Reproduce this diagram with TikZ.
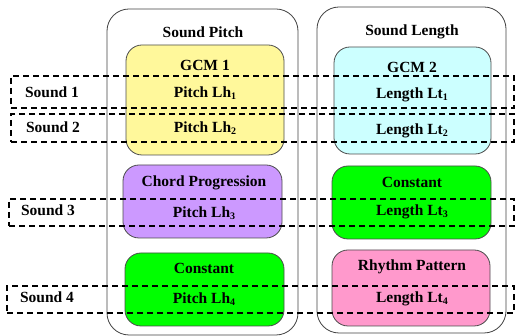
\documentclass[tikz,border=0pt]{standalone}
\usepackage{fontspec}
\setmainfont{Liberation Serif}
\begin{document}
\begin{tikzpicture}[x=1pt,y=-1pt,
  cont/.style={draw=black!75,line width=0.8pt,rounded corners=22pt,inner sep=0pt},
  gbox/.style={draw=black!70,line width=0.8pt,rounded corners=16pt,inner sep=0pt},
  snd/.style={draw=black,line width=1.8pt,dash pattern=on 6pt off 4pt,inner sep=0pt},
  txt/.style={font=\fontsize{15.5}{17}\selectfont\bfseries,inner sep=0pt,anchor=base},
]
\newcommand{\sbs}[1]{\raisebox{-0.25ex}{\fontsize{10}{10}\selectfont #1}}
\useasboundingbox (0,0) rectangle (515,336);
% containers
\node[cont,minimum width=191pt,minimum height=326pt] (cp) at (202.5,172) {};
\node[cont,minimum width=189pt,minimum height=326pt] (cl) at (411.5,170) {};
\node[txt] (tp) at (203,38) {Sound Pitch};
\node[txt] (tl) at (412,36) {Sound Length};
% inner boxes
\node[gbox,fill={rgb,255:red,255;green,248;blue,155},minimum width=158pt,minimum height=110pt] (b1) at (205,100) {};
\node[gbox,fill={rgb,255:red,204;green,255;blue,255},minimum width=157pt,minimum height=107pt] (b2) at (412.5,100.5) {};
\node[gbox,fill={rgb,255:red,204;green,153;blue,255},minimum width=159pt,minimum height=73pt] (b3) at (202.5,201.5) {};
\node[gbox,fill={rgb,255:red,0;green,255;blue,0},minimum width=159pt,minimum height=73pt] (b4) at (411.5,202.5) {};
\node[gbox,fill={rgb,255:red,0;green,255;blue,0},minimum width=159pt,minimum height=73pt] (b5) at (204.5,289.5) {};
\node[gbox,fill={rgb,255:red,255;green,153;blue,204},minimum width=158pt,minimum height=76pt] (b6) at (411,288) {};
% texts in boxes
\node[txt] (t1a) at (205,71) {GCM 1};
\node[txt] (t1b) at (205,98) {Pitch Lh\sbs{1}};
\node[txt] (t1c) at (205,133) {Pitch Lh\sbs{2}};
\node[txt] (t2a) at (412,73) {GCM 2};
\node[txt] (t2b) at (412,99) {Length Lt\sbs{1}};
\node[txt] (t2c) at (412,135) {Length Lt\sbs{2}};
\node[txt] (t3a) at (204,187) {Chord Progression};
\node[txt] (t3b) at (204,218) {Pitch Lh\sbs{3}};
\node[txt] (t4a) at (412,188) {Constant};
\node[txt] (t4b) at (412,216) {Length Lt\sbs{3}};
\node[txt] (t5a) at (204,274) {Constant};
\node[txt] (t5b) at (204,304) {Pitch Lh\sbs{4}};
\node[txt] (t6a) at (412,271) {Rhythm Pattern};
\node[txt] (t6b) at (412,303) {Length Lt\sbs{4}};
% sound dashed rectangles
\node[snd,minimum width=503pt,minimum height=32pt] (s1) at (262.5,92) {};
\node[snd,minimum width=503pt,minimum height=28pt] (s2) at (262.5,128) {};
\node[snd,minimum width=505pt,minimum height=27pt] (s3) at (261.5,212.5) {};
\node[snd,minimum width=507pt,minimum height=27pt] (s4) at (260.5,299.5) {};
\node[txt] (l1) at (52,98) {Sound 1};
\node[txt] (l2) at (53,133) {Sound 2};
\node[txt] (l3) at (48,216) {Sound 3};
\node[txt] (l4) at (47,303) {Sound 4};
\end{tikzpicture}
\end{document}
